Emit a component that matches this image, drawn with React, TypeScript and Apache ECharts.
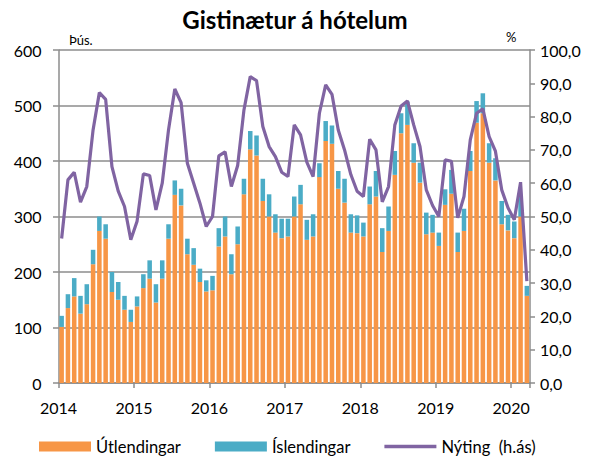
import React, { useEffect, useRef } from "react";
import * as echarts from "echarts";

const months: string[] = [];
for (let y = 2014; y <= 2020; y++) {
  for (let m = 1; m <= 12; m++) {
    if (y === 2020 && m > 3) break;
    months.push(`${y}-${String(m).padStart(2, "0")}`);
  }
}

const utlendingar = [
  101, 135, 156, 125, 142, 214, 274, 260, 164, 150, 132, 110,
  138, 171, 188, 145, 188, 260, 339, 320, 232, 213, 182, 165,
  167, 246, 264, 196, 250, 340, 421, 410, 328, 300, 271, 261,
  264, 300, 322, 258, 264, 371, 436, 431, 350, 325, 271, 270,
  264, 322, 336, 236, 274, 375, 450, 465, 397, 361, 268, 271,
  247, 321, 341, 236, 274, 382, 469, 486, 397, 365, 286, 275,
  261, 300, 157,
];

const islendingar = [
  20, 25, 33, 32, 36, 26, 26, 26, 36, 32, 25, 22,
  18, 25, 33, 33, 33, 26, 26, 30, 28, 30, 24, 20,
  26, 33, 36, 36, 32, 28, 33, 36, 40, 40, 33, 35,
  32, 36, 35, 36, 40, 25, 36, 33, 32, 43, 33, 32,
  25, 32, 46, 43, 44, 43, 36, 42, 35, 36, 39, 32,
  24, 28, 43, 35, 40, 36, 39, 36, 35, 40, 42, 28,
  30, 38, 18,
];

const nyting = [
  43.4, 61, 63.3, 54.3, 59, 76, 87.2, 85.2, 65, 57.6, 53, 43,
  48.6, 62.8, 62.3, 52, 60, 76, 88.3, 84.2, 66, 60, 54, 47,
  50, 68.2, 69.4, 59, 65.3, 82, 92, 90.8, 77, 71, 68, 63.3,
  62, 77.5, 74.5, 66.3, 62, 81, 89.5, 86.7, 76, 70, 62.6, 57.6,
  56, 73.2, 70, 54.4, 59, 77.5, 83.2, 84.7, 77.5, 71, 58, 53.3,
  50, 67, 66.6, 49.6, 56, 73, 81, 82.3, 74, 69.6, 58, 52.6,
  49, 60.3, 30.6,
];

const FONT = "Lato";
const AXIS_COLOR = "#8c8c8c";

export default function App() {
  const ref = useRef<HTMLDivElement>(null);
  useEffect(() => {
    if (!ref.current) return;
    const chart = echarts.init(ref.current, undefined, { renderer: "svg" });
    chart.setOption({
      animation: false,
      backgroundColor: "#ffffff",
      textStyle: { fontFamily: FONT, color: "#000" },
      title: {
        text: "Gistinætur á hótelum",
        left: "center",
        top: 2,
        textStyle: { fontFamily: FONT, fontSize: 24, fontWeight: "bold", color: "#000" },
      },
      grid: { left: 58.5, right: 60, top: 50, bottom: 74, containLabel: false },
      legend: {
        left: 34,
        top: 433,
        itemWidth: 52,
        itemHeight: 10,
        itemGap: 34,
        textStyle: { fontFamily: FONT, fontSize: 16.5, color: "#000" },
        data: [
          { name: "Útlendingar", icon: "rect" },
          { name: "Íslendingar", icon: "rect" },
          {
            name: "Nýting  (h.ás)",
            icon: "path://M0,0 L52,0 L52,3.5 L0,3.5 Z",
            itemStyle: { color: "#8064A2" },
          },
        ],
      },
      xAxis: [
        {
          type: "category",
          data: months,
          show: false,
          boundaryGap: true,
        },
        {
          type: "value",
          min: 0,
          max: 75,
          interval: 12,
          position: "bottom",
          axisLine: { show: true, lineStyle: { color: AXIS_COLOR, width: 1.5 } },
          axisTick: { show: true, length: 5, lineStyle: { color: AXIS_COLOR, width: 1.5 } },
          splitLine: { show: false },
          axisLabel: {
            margin: 16,
            fontFamily: FONT,
            fontSize: 16,
            color: "#000",
            formatter: (v: number) => (v % 12 === 0 ? String(2014 + v / 12) : ""),
          },
        },
      ],
      yAxis: [
        {
          type: "value",
          min: 0,
          max: 600,
          interval: 100,
          position: "left",
          axisLine: { show: true, lineStyle: { color: AXIS_COLOR, width: 1.5 } },
          axisTick: { show: true, length: 5.5, lineStyle: { color: AXIS_COLOR, width: 1.5 } },
          splitLine: { show: true, lineStyle: { color: AXIS_COLOR, width: 1.5 } },
          axisLabel: { margin: 17, fontFamily: FONT, fontSize: 16, color: "#000" },
        },
        {
          type: "value",
          min: 0,
          max: 100,
          interval: 10,
          position: "right",
          axisLine: { show: true, lineStyle: { color: AXIS_COLOR, width: 1.5 } },
          axisTick: { show: true, length: 5, lineStyle: { color: AXIS_COLOR, width: 1.5 } },
          splitLine: { show: false },
          axisLabel: {
            margin: 10,
            fontFamily: FONT,
            fontSize: 16,
            color: "#000",
            formatter: (v: number) => v.toFixed(1).replace(".", ","),
          },
        },
      ],
      graphic: [
        { type: "text", left: 69, top: 33, style: { text: "Þús.", fontFamily: FONT, fontSize: 13, fill: "#000" } },
        { type: "text", left: 506, top: 30, style: { text: "%", fontFamily: FONT, fontSize: 13, fill: "#000" } },
      ],
      series: [
        {
          name: "Útlendingar",
          type: "bar",
          stack: "gist",
          xAxisIndex: 0,
          yAxisIndex: 0,
          data: utlendingar,
          barCategoryGap: "28%",
          itemStyle: { color: "#F79646" },
        },
        {
          name: "Íslendingar",
          type: "bar",
          stack: "gist",
          xAxisIndex: 0,
          yAxisIndex: 0,
          data: islendingar,
          barCategoryGap: "28%",
          itemStyle: { color: "#4BACC6" },
        },
        {
          name: "Nýting  (h.ás)",
          type: "line",
          xAxisIndex: 0,
          yAxisIndex: 1,
          data: nyting,
          symbol: "none",
          lineStyle: { color: "#8064A2", width: 3.2 },
          itemStyle: { color: "#8064A2" },
          z: 5,
        },
      ],
    });
    return () => chart.dispose();
  }, []);
  return (
    <div
      ref={ref}
      style={{ position: "fixed", left: 0, top: 0, width: 590, height: 457 }}
    />
  );
}
